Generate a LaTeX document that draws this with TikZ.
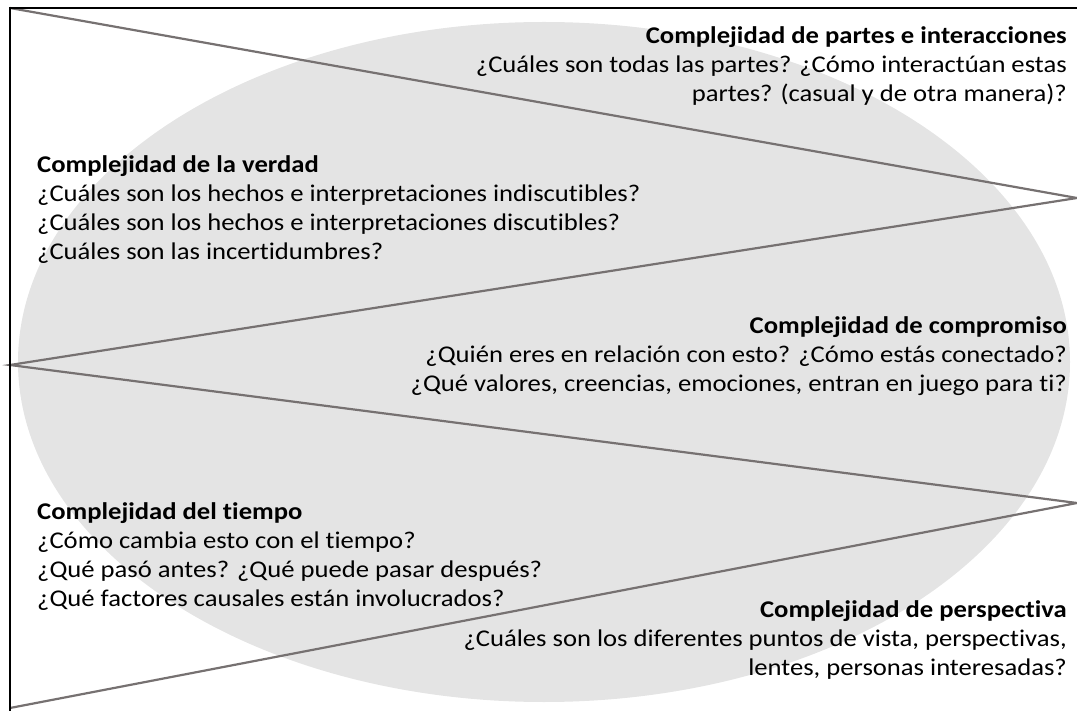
\documentclass[tikz,border=0pt]{standalone}
\usepackage{fontspec}
\setmainfont{Carlito}[Ligatures=NoCommon,FakeStretch=1.11]
\definecolor{zigzag}{HTML}{767171}
\definecolor{oval}{HTML}{E4E4E4}

\begin{document}
\begin{tikzpicture}[x=1pt,y=-1pt,
		every node/.style={inner sep=0pt,font=\fontsize{24}{29}\selectfont},
		lblock/.style={anchor=north west,align=left},
		rblock/.style={anchor=north east,align=right}]
		\useasboundingbox (0,0) rectangle (1077,711);
		\fill[oval] (544,362) ellipse [x radius=526pt, y radius=340pt];
		
		\coordinate (Z_1) at (10,8);
		\coordinate (Z_2) at (1077,198);
		\coordinate (Z_3) at (10,365);
		\coordinate (Z_4) at (1077,503);
		\coordinate (Z_5) at (10,708);
		\coordinate (F_r) at (1077,8);
		\coordinate (F_b) at (10,711);
		
		\draw[zigzag,line width=2.2pt] (Z_1) -- (Z_2) -- (Z_3) -- (Z_4) -- (Z_5);
		
		\node[rblock] (partes) at (1067,26) {\textbf{Complejidad de partes e interacciones}\\
			¿Cuáles son todas las partes? ¿Cómo interactúan estas\\
			partes? (casual y de otra manera)?};
		\node[lblock] (verdad) at (37,155) {\textbf{Complejidad de la verdad}\\
			¿Cuáles son los hechos e interpretaciones indiscutibles?\\
			¿Cuáles son los hechos e interpretaciones discutibles?\\
			¿Cuáles son las incertidumbres?};
		\node[rblock] (compromiso) at (1067,316) {\textbf{Complejidad de compromiso}\\
			¿Quién eres en relación con esto? ¿Cómo estás conectado?\\
			¿Qué valores, creencias, emociones, entran en juego para ti?};
		\node[lblock] (tiempo) at (37,502) {\textbf{Complejidad del tiempo}\\
			¿Cómo cambia esto con el tiempo?\\
			¿Qué pasó antes? ¿Qué puede pasar después?\\
			¿Qué factores causales están involucrados?};
		\node[rblock] (perspectiva) at (1067,600) {\textbf{Complejidad de perspectiva}\\
			¿Cuáles son los diferentes puntos de vista, perspectivas,\\
			lentes, personas interesadas?};
		
		\draw[black,line width=2.5pt] (F_b) -- (Z_1) -- (F_r);
	\end{tikzpicture}
\end{document}
